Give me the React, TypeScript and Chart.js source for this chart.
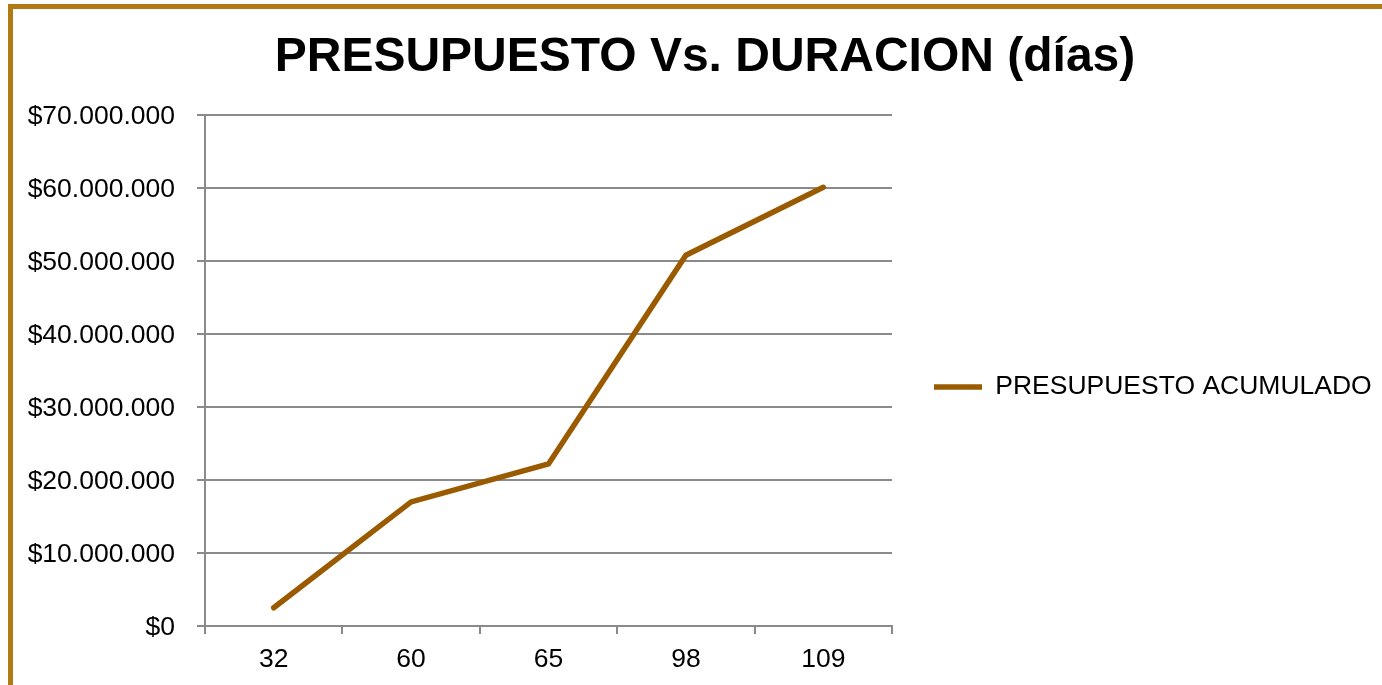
import React, { useEffect, useRef } from "react";
import { Chart, registerables } from "chart.js";

Chart.register(...registerables);

const categories = ["32", "60", "65", "98", "109"];
const presupuestoAcumulado = [2500000, 17000000, 22200000, 50800000, 60100000];
const seriesLabel = "PRESUPUESTO ACUMULADO";
const titleText = "PRESUPUESTO Vs. DURACION (días)";
const yMin = 0;
const yMax = 70000000;
const yStep = 10000000;

const FONT = "'Liberation Sans', Arial, sans-serif";
const LINE_COLOR = "#9A5B00";
const GRID_COLOR = "#8a8a8a";
const LEGEND_WIDTH = 490;
const TICK_SIZE = 26.5;

function formatMoney(v: number): string {
  const s = Math.round(v).toString().replace(/\B(?=(\d{3})+(?!\d))/g, ".");
  return "$" + s;
}

// Chart.js caps a side legend at a quarter of the width; let it take the width it needs.
const legendWidthPlugin = {
  id: "legendWidth",
  beforeLayout(chart: any) {
    const lg = chart.legend;
    if (lg && !lg.__patched) {
      const orig = lg.fit.bind(lg);
      lg.fit = function () {
        orig();
        this.width = LEGEND_WIDTH;
      };
      lg.__patched = true;
    }
  },
};

export default function App() {
  const ref = useRef<HTMLCanvasElement | null>(null);

  useEffect(() => {
    if (!ref.current) return;
    const chart = new Chart(ref.current, {
      type: "line",
      data: {
        labels: categories,
        datasets: [
          {
            label: seriesLabel,
            data: presupuestoAcumulado,
            borderColor: LINE_COLOR,
            backgroundColor: LINE_COLOR,
            borderWidth: 5.5,
            borderCapStyle: "round",
            pointRadius: 0,
            pointHoverRadius: 0,
            tension: 0,
            fill: false,
          },
        ],
      },
      plugins: [legendWidthPlugin],
      options: {
        responsive: false,
        animation: false,
        layout: { padding: { left: 28, right: 0, top: 26, bottom: 0 } },
        plugins: {
          title: {
            display: true,
            text: titleText,
            color: "#000",
            font: { family: FONT, size: 48, weight: "bold", lineHeight: 1.2 },
            padding: { top: 3, bottom: 28.4 },
          },
          legend: {
            display: true,
            position: "right",
            fullSize: false,
            title: {
              display: true,
              text: " ",
              font: { family: FONT, size: 1, lineHeight: 1 },
              padding: { top: 32, bottom: 0 },
            },
            labels: {
              color: "#000",
              font: { family: FONT, size: TICK_SIZE },
              usePointStyle: true,
              pointStyle: "line",
              pointStyleWidth: 48,
              padding: 42,
            },
          },
          tooltip: { enabled: false },
        },
        scales: {
          x: {
            type: "category",
            offset: true,
            afterFit: (scale: any) => {
              scale.height = 59;
            },
            grid: {
              offset: true,
              drawOnChartArea: false,
              drawTicks: true,
              tickLength: 8,
              color: GRID_COLOR,
              lineWidth: 2,
            },
            border: { display: true, color: GRID_COLOR, width: 2 },
            ticks: {
              color: "#000",
              font: { family: FONT, size: TICK_SIZE },
              padding: 10,
              maxRotation: 0,
              autoSkip: false,
            },
          },
          y: {
            min: yMin,
            max: yMax,
            afterFit: (scale: any) => {
              scale.width = 177;
            },
            grid: {
              drawTicks: true,
              tickLength: 8,
              color: GRID_COLOR,
              lineWidth: 2,
            },
            border: { display: true, color: GRID_COLOR, width: 2 },
            ticks: {
              stepSize: yStep,
              color: "#000",
              font: { family: FONT, size: TICK_SIZE },
              padding: 22,
              labelOffset: 2,
              callback: (v: any) => formatMoney(Number(v)),
            },
          },
        },
      },
    });
    return () => chart.destroy();
  }, []);

  return (
    <div>
      <div
        style={{
          position: "fixed",
          left: 8,
          top: 4,
          width: 1420,
          height: 720,
          border: "5px solid #B07A14",
          boxSizing: "border-box",
          background: "#fff",
        }}
      />
      <div style={{ position: "fixed", left: 0, top: 0, width: 1382, height: 685 }}>
        <canvas ref={ref} width={1382} height={685} style={{ display: "block" }} />
      </div>
    </div>
  );
}
